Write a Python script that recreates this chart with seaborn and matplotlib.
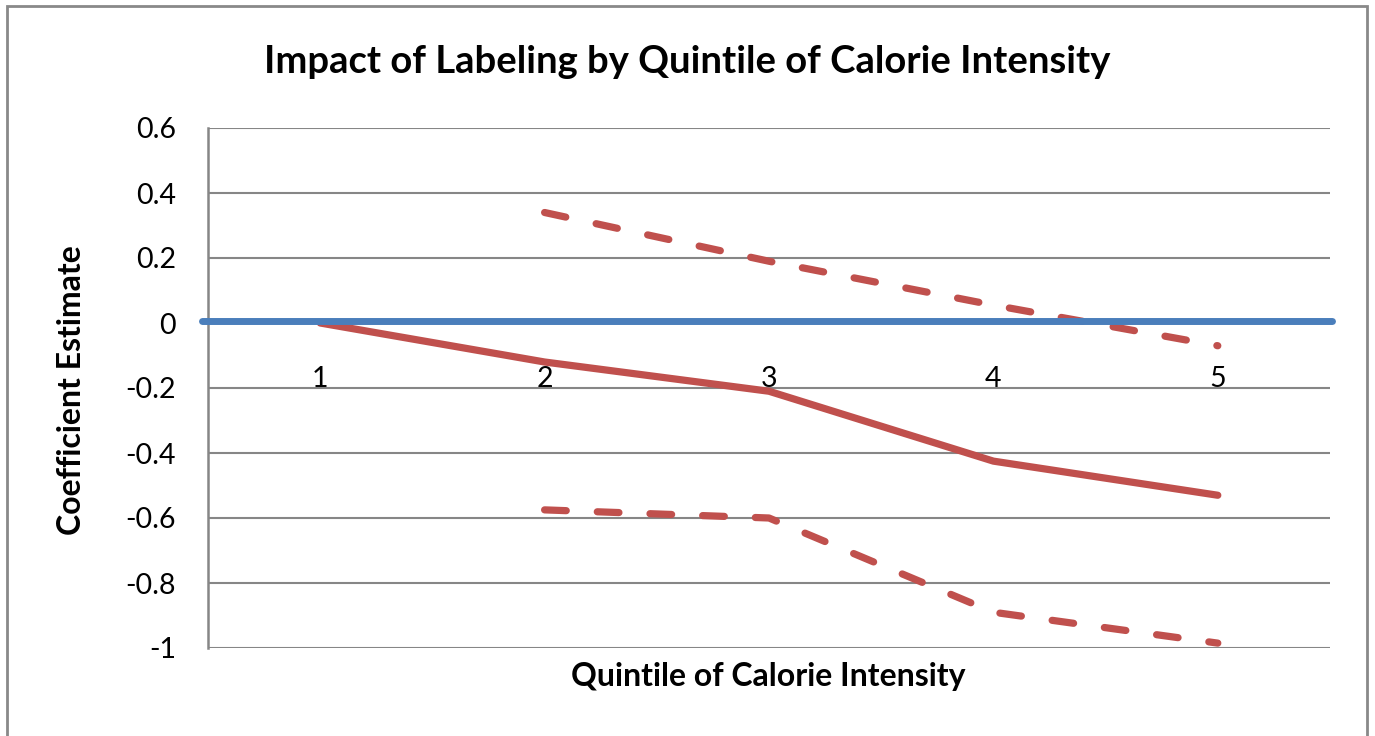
import matplotlib
matplotlib.use('Agg')
import matplotlib.pyplot as plt
import seaborn as sns
import pandas as pd
from matplotlib.patches import Rectangle

# values
quintiles = [1, 2, 3, 4, 5]
estimate = [0.0, -0.12, -0.21, -0.425, -0.53]
upper_q = [2, 3, 4, 5]
upper_ci = [0.34, 0.19, 0.055, -0.07]
lower_q = [2, 3, 4, 5]
lower_ci = [-0.575, -0.60, -0.89, -0.985]
zero_level = 0.007
y_ticks = [-1, -0.8, -0.6, -0.4, -0.2, 0, 0.2, 0.4, 0.6]
y_labels = ['-1', '-0.8', '-0.6', '-0.4', '-0.2', '0', '0.2', '0.4', '0.6']

red = '#C0504D'
blue = '#4A7EBB'
grey = '#868686'

sns.set_style('white')
plt.rcParams['font.family'] = ['Lato', 'DejaVu Sans']
plt.rcParams['text.color'] = 'black'
plt.rcParams['xtick.color'] = 'black'
plt.rcParams['ytick.color'] = 'black'

fig = plt.figure(figsize=(13.75, 7.36), dpi=100)
ax = fig.add_axes([208/1375, 1 - 648/736, 1122/1375, 520/736])

df = pd.DataFrame({'q': quintiles, 'est': estimate})
up = pd.DataFrame({'q': upper_q, 'ci': upper_ci})
lo = pd.DataFrame({'q': lower_q, 'ci': lower_ci})

for yv in y_ticks:
    ax.axhline(yv, color=grey, lw=1.5, zorder=1)

sns.lineplot(data=df, x='q', y='est', ax=ax, color=red, lw=5.2, zorder=3,
             solid_capstyle='round')
sns.lineplot(data=up, x='q', y='ci', ax=ax, color=red, lw=5.2, zorder=3,
             linestyle=(0, (3, 4.3)), dash_capstyle='round')
sns.lineplot(data=lo, x='q', y='ci', ax=ax, color=red, lw=5.2, zorder=3,
             linestyle=(0, (3, 4.3)), dash_capstyle='round')
ax.axhline(zero_level, xmin=-0.005, xmax=1.002, color=blue, lw=5,
           zorder=4, clip_on=False)

ax.set_xlim(0.5, 5.5)
ax.set_ylim(-1, 0.6)
ax.set_yticks(y_ticks)
ax.set_yticklabels(y_labels)
ax.set_xticks(quintiles)
ax.set_xticklabels([str(q) for q in quintiles])
ax.spines['bottom'].set_position(('data', 0))
ax.spines['bottom'].set_visible(False)
ax.spines['top'].set_visible(False)
ax.spines['right'].set_visible(False)
ax.spines['left'].set_color(grey)
ax.spines['left'].set_linewidth(1.8)
ax.tick_params(axis='x', length=0, pad=31, labelsize=20.5)
ax.tick_params(axis='y', length=0, pad=23, labelsize=20.5)
ax.set_xlabel('')
ax.set_ylabel('')

fig.text(0.4996, 0.916, 'Impact of Labeling by Quintile of Calorie Intensity',
         ha='center', va='center', fontsize=27.5, fontweight='bold')
fig.text(0.052, 0.47, 'Coefficient Estimate', rotation=90,
         ha='center', va='center', fontsize=23, fontweight='bold')
fig.text(0.5585, 0.0815, 'Quintile of Calorie Intensity',
         ha='center', va='center', fontsize=23, fontweight='bold')

fig.patches.append(Rectangle((7/1375, -0.1), 1360/1375, 1.1 - 6/736,
                             transform=fig.transFigure, fill=False,
                             edgecolor='#898989', lw=2))

fig.savefig('out.png', dpi=100)
